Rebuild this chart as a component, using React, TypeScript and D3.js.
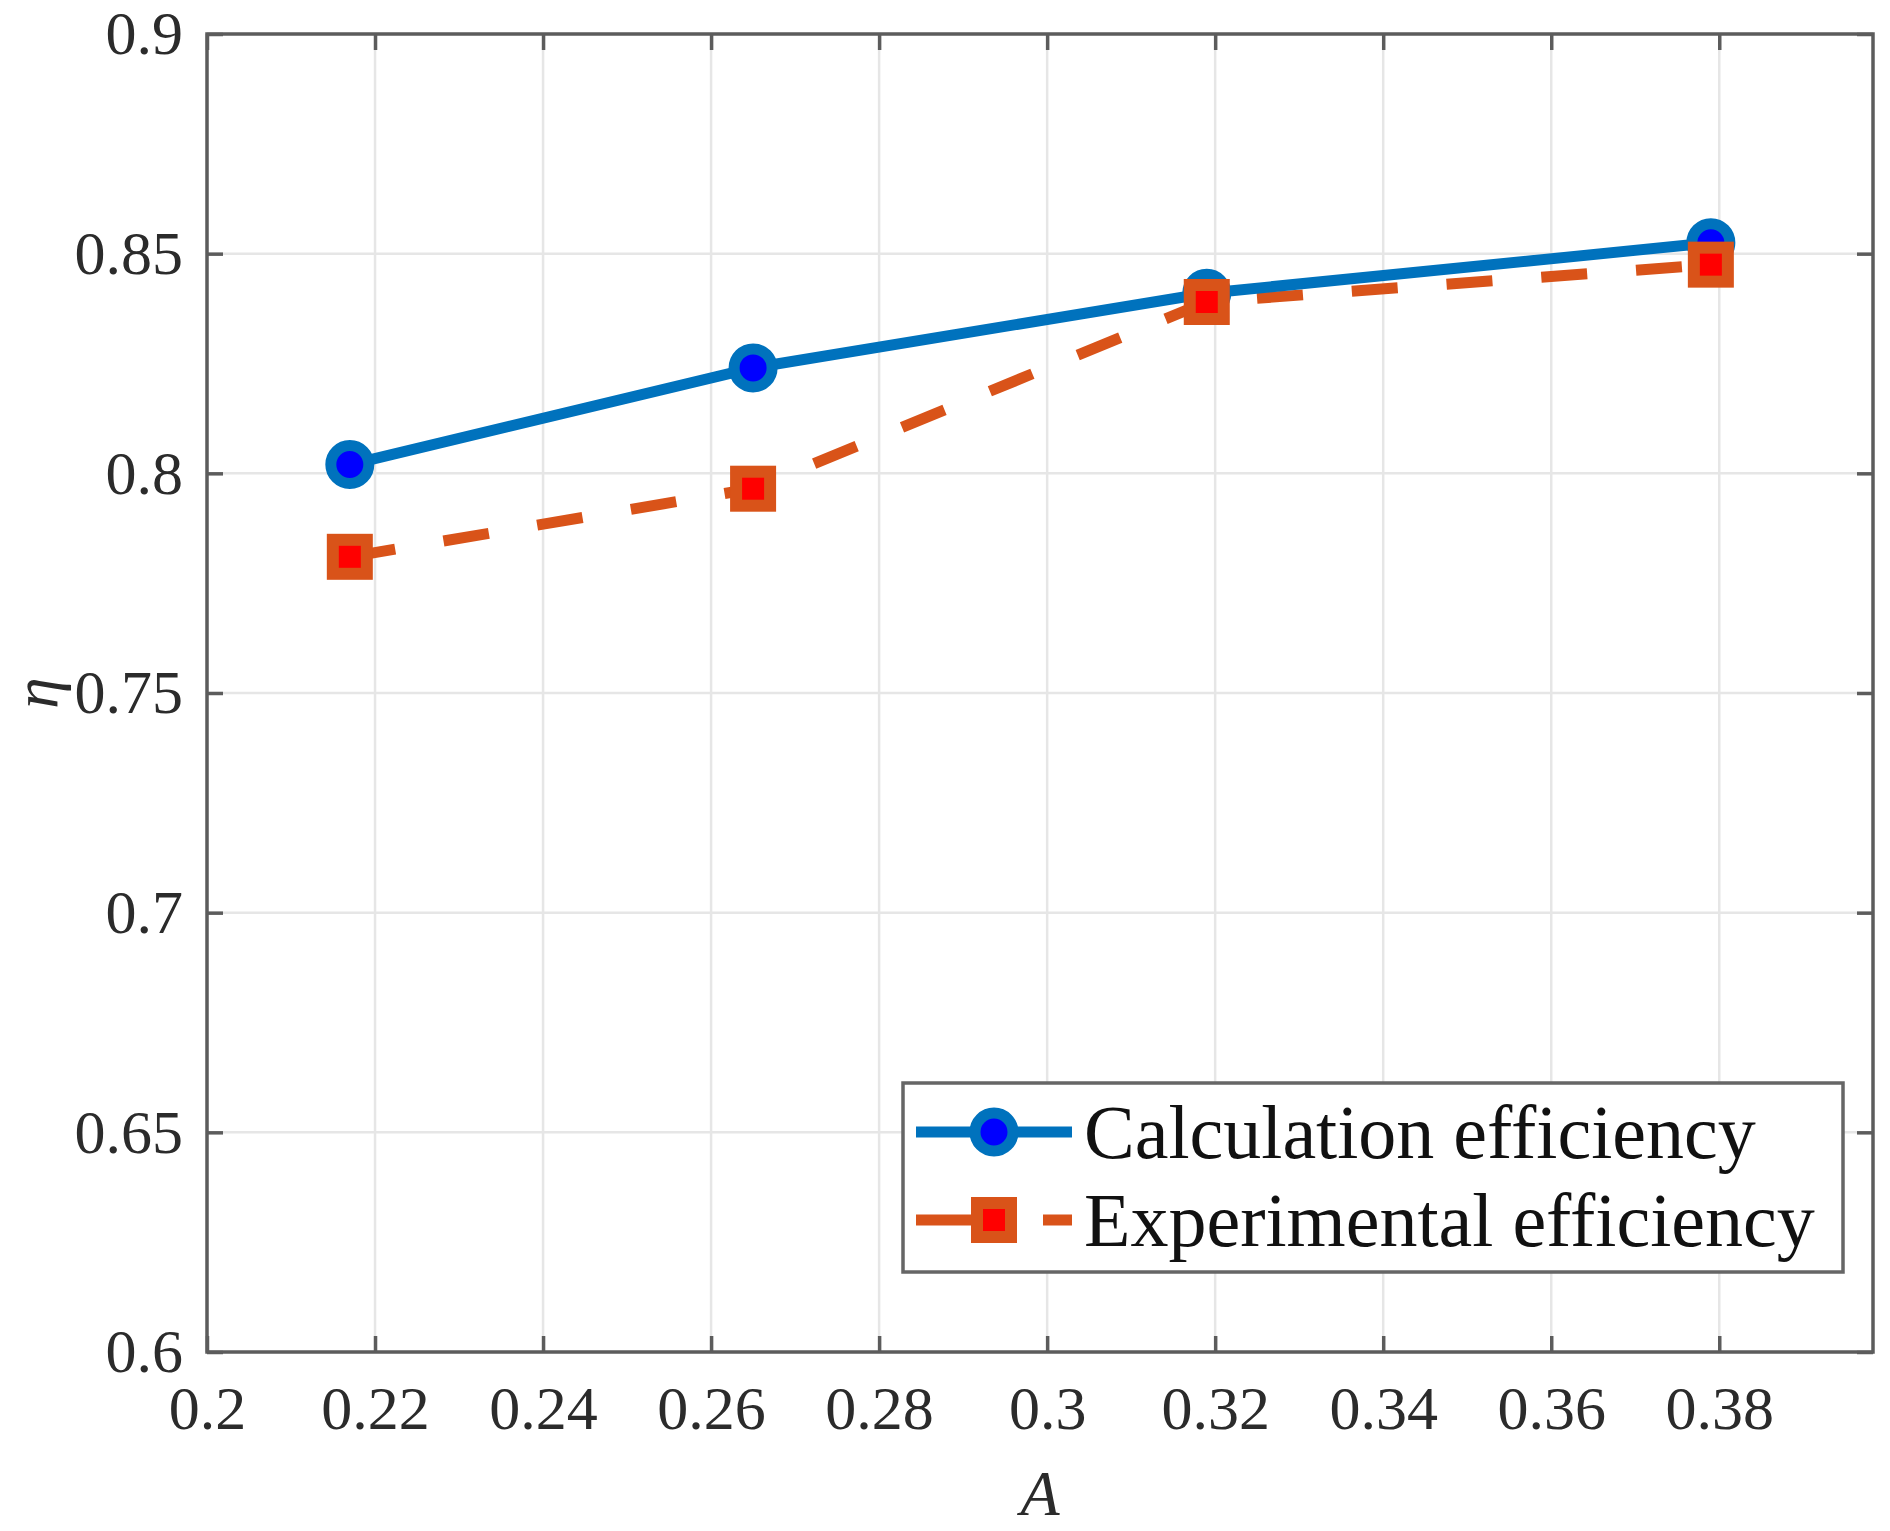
import { useEffect, useRef } from "react";
import * as d3 from "d3";

// ── Data ───────────────────────────────────────────────────────────────────────
const areaRatio = [0.217, 0.265, 0.319, 0.379];
const calcEfficiency = [0.802, 0.824, 0.841, 0.8525];
const expEfficiency = [0.781, 0.7965, 0.839, 0.8475];
const seriesNames = ["Calculation efficiency", "Experimental efficiency"];

const xTicks = [0.2, 0.22, 0.24, 0.26, 0.28, 0.3, 0.32, 0.34, 0.36, 0.38];
const yTicks = [0.6, 0.65, 0.7, 0.75, 0.8, 0.85, 0.9];
const xDomain = [0.2, 0.3983];
const yDomain = [0.6, 0.9];

const FONT = "'Liberation Serif', 'Times New Roman', serif";
const BLUE = "#0072BD";
const ORANGE = "#D95319";

export default function App() {
  const svgRef = useRef<SVGSVGElement>(null);

  useEffect(() => {
    if (!svgRef.current) return;

    // ── Dimensions ─────────────────────────────────────────────────────────────
    const width = 1890;
    const height = 1531;
    const margin = { top: 34, right: 17, bottom: 179, left: 207 };
    const innerWidth = width - margin.left - margin.right;
    const innerHeight = height - margin.top - margin.bottom;

    const x = d3.scaleLinear().domain(xDomain).range([0, innerWidth]);
    const y = d3.scaleLinear().domain(yDomain).range([innerHeight, 0]);

    const svg = d3.select(svgRef.current);
    svg.selectAll("*").remove();

    const g = svg
      .append("g")
      .attr("transform", `translate(${margin.left},${margin.top})`);

    // ── Grid ───────────────────────────────────────────────────────────────────
    const grid = g.append("g").attr("stroke", "#e6e6e6").attr("stroke-width", 2.5);
    grid
      .selectAll("line.gx")
      .data(xTicks)
      .enter()
      .append("line")
      .attr("x1", (d) => x(d))
      .attr("x2", (d) => x(d))
      .attr("y1", 0)
      .attr("y2", innerHeight);
    grid
      .selectAll("line.gy")
      .data(yTicks)
      .enter()
      .append("line")
      .attr("x1", 0)
      .attr("x2", innerWidth)
      .attr("y1", (d) => y(d))
      .attr("y2", (d) => y(d));

    // ── Axes ───────────────────────────────────────────────────────────────────
    const tickLen = 16;
    const styleAxis = (sel: d3.Selection<SVGGElement, unknown, null, undefined>) => {
      sel.select(".domain").remove();
      sel.selectAll(".tick line").attr("stroke", "#5c5c5c").attr("stroke-width", 3.5);
      sel
        .selectAll("text")
        .attr("fill", "#2b2b2b")
        .attr("font-family", FONT)
        .attr("font-size", 62);
    };

    const fmt = (d: d3.NumberValue) => String(+(+d).toFixed(2));

    g.append("g")
      .attr("transform", `translate(0,${innerHeight})`)
      .call(d3.axisBottom(x).tickValues(xTicks).tickFormat(fmt).tickSizeInner(-tickLen).tickSizeOuter(0).tickPadding(33))
      .call(styleAxis);

    g.append("g")
      .call(d3.axisTop(x).tickValues(xTicks).tickFormat(() => "").tickSizeInner(-tickLen).tickSizeOuter(0))
      .call(styleAxis);

    g.append("g")
      .call(d3.axisLeft(y).tickValues(yTicks).tickFormat(fmt).tickSizeInner(-tickLen).tickSizeOuter(0).tickPadding(24))
      .call(styleAxis);

    g.append("g")
      .attr("transform", `translate(${innerWidth},0)`)
      .call(d3.axisRight(y).tickValues(yTicks).tickFormat(() => "").tickSizeInner(-tickLen).tickSizeOuter(0))
      .call(styleAxis);

    // box
    g.append("rect")
      .attr("width", innerWidth)
      .attr("height", innerHeight)
      .attr("fill", "none")
      .attr("stroke", "#5c5c5c")
      .attr("stroke-width", 3.5);

    // axis labels
    g.append("text")
      .attr("x", innerWidth / 2)
      .attr("y", innerHeight + 163)
      .attr("text-anchor", "middle")
      .attr("font-family", FONT)
      .attr("font-style", "italic")
      .attr("font-size", 64)
      .attr("fill", "#2b2b2b")
      .text("A");

    g.append("text")
      .attr("transform", `translate(${57 - margin.left},${innerHeight / 2}) rotate(-90)`)
      .attr("text-anchor", "middle")
      .attr("font-family", FONT)
      .attr("font-style", "italic")
      .attr("font-size", 63)
      .attr("fill", "#2b2b2b")
      .text("η");

    // ── Series ─────────────────────────────────────────────────────────────────
    type Pt = [number, number];
    const calcPts: Pt[] = areaRatio.map((a, i) => [a, calcEfficiency[i]]);
    const expPts: Pt[] = areaRatio.map((a, i) => [a, expEfficiency[i]]);
    const line = d3
      .line<Pt>()
      .x((d) => x(d[0]))
      .y((d) => y(d[1]));

    g.append("path")
      .datum(expPts)
      .attr("d", line)
      .attr("fill", "none")
      .attr("stroke", ORANGE)
      .attr("stroke-width", 11)
      .attr("stroke-dasharray", "46 49");

    g.append("path")
      .datum(calcPts)
      .attr("d", line)
      .attr("fill", "none")
      .attr("stroke", BLUE)
      .attr("stroke-width", 11);

    g.selectAll("circle.calc")
      .data(calcPts)
      .enter()
      .append("circle")
      .attr("cx", (d) => x(d[0]))
      .attr("cy", (d) => y(d[1]))
      .attr("r", 19)
      .attr("fill", "#0000ff")
      .attr("stroke", BLUE)
      .attr("stroke-width", 11);

    const sq = 34;
    g.selectAll("rect.exp")
      .data(expPts)
      .enter()
      .append("rect")
      .attr("x", (d) => x(d[0]) - sq / 2)
      .attr("y", (d) => y(d[1]) - sq / 2)
      .attr("width", sq)
      .attr("height", sq)
      .attr("fill", "#ff0000")
      .attr("stroke", ORANGE)
      .attr("stroke-width", 12);

    // ── Legend ─────────────────────────────────────────────────────────────────
    const lg = svg.append("g").attr("transform", "translate(903,1083)");
    lg.append("rect")
      .attr("width", 940)
      .attr("height", 189)
      .attr("fill", "#fff")
      .attr("stroke", "#666")
      .attr("stroke-width", 3.5);

    const rows = [49, 137];
    // calculation row
    lg.append("line")
      .attr("x1", 13)
      .attr("x2", 169)
      .attr("y1", rows[0])
      .attr("y2", rows[0])
      .attr("stroke", BLUE)
      .attr("stroke-width", 11);
    lg.append("circle")
      .attr("cx", 91)
      .attr("cy", rows[0])
      .attr("r", 19)
      .attr("fill", "#0000ff")
      .attr("stroke", BLUE)
      .attr("stroke-width", 11);
    // experimental row
    lg.append("line")
      .attr("x1", 13)
      .attr("x2", 169)
      .attr("y1", rows[1])
      .attr("y2", rows[1])
      .attr("stroke", ORANGE)
      .attr("stroke-width", 11)
      .attr("stroke-dasharray", "100 27 29");
    lg.append("rect")
      .attr("x", 91 - sq / 2)
      .attr("y", rows[1] - sq / 2)
      .attr("width", sq)
      .attr("height", sq)
      .attr("fill", "#ff0000")
      .attr("stroke", ORANGE)
      .attr("stroke-width", 12);

    lg.selectAll("text.lbl")
      .data(seriesNames)
      .enter()
      .append("text")
      .attr("x", 181)
      .attr("y", (_, i) => rows[i] + 26)
      .attr("font-family", FONT)
      .attr("font-size", 76)
      .attr("fill", "#111")
      .text((d) => d);
  }, []);

  return (
    <div style={{ position: "absolute", left: 0, top: 0, background: "#fff" }}>
      <svg ref={svgRef} width={1890} height={1531} viewBox="0 0 1890 1531" style={{ display: "block" }} />
    </div>
  );
}
